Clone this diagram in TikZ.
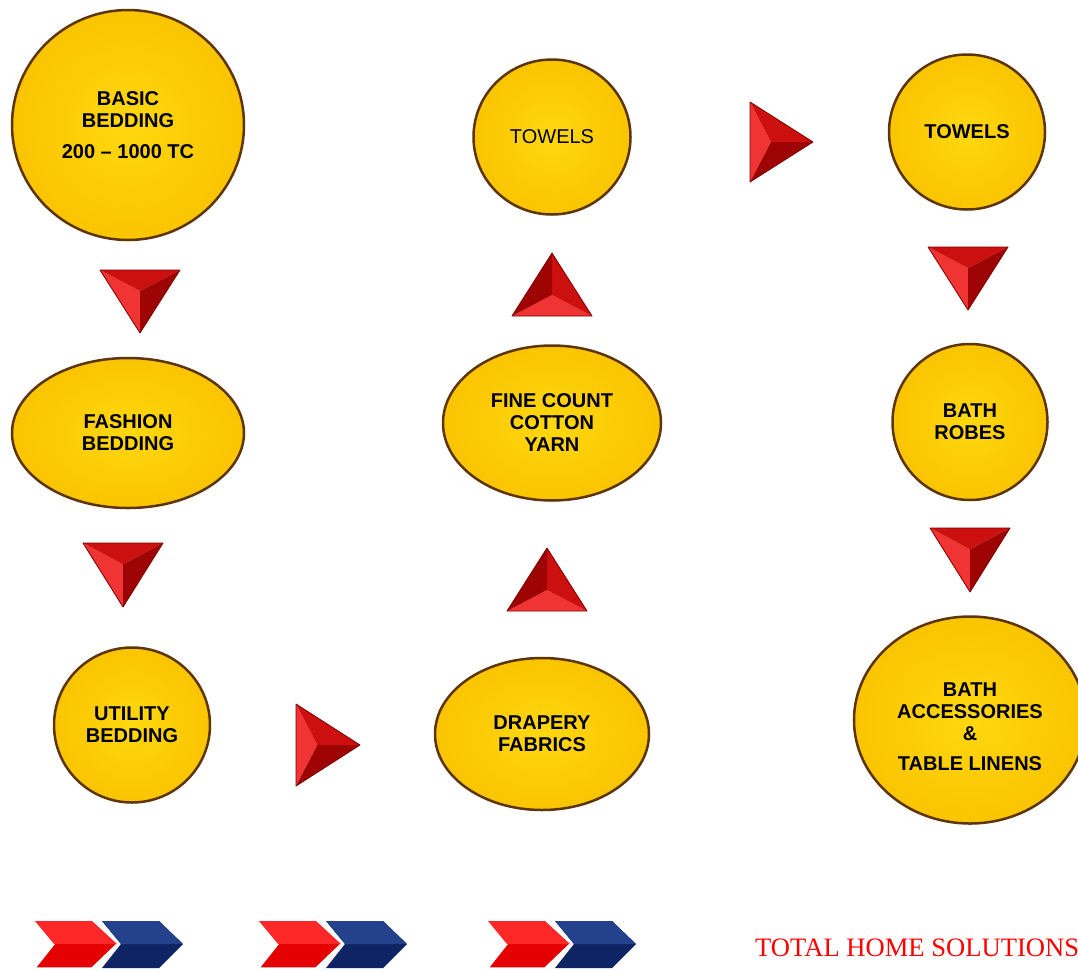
\documentclass[tikz,border=0pt]{standalone}
\usepackage{fontspec}
\setmainfont{Liberation Sans}
\newfontfamily\sloganfont{Liberation Serif}
\usepackage{tikz}
\usetikzlibrary{shapes.geometric}

\definecolor{ballhi}{RGB}{255,216,16}
\definecolor{ballrim}{RGB}{250,196,0}
\definecolor{ballline}{RGB}{92,54,10}
\definecolor{pyrbright}{RGB}{240,52,52}
\definecolor{pyrmid}{RGB}{204,16,16}
\definecolor{pyrdark}{RGB}{158,4,4}
\definecolor{pyrline}{RGB}{125,0,0}
\definecolor{chevred}{RGB}{228,0,0}
\definecolor{chevredhi}{RGB}{255,40,40}
\definecolor{chevblue}{RGB}{14,36,100}
\definecolor{chevbluehi}{RGB}{36,66,140}

\tikzset{
  ball/.style={ellipse, draw=ballline, line width=2.5pt, inner color=ballhi,
    outer color=ballrim, inner sep=0pt, align=center,
    font=\fontsize{20}{22}\selectfont\bfseries},
  thinball/.style={ball, font=\fontsize{20}{22}\selectfont},
}

% three faceted red pyramid: first facet bright, second mid, third dark
\newcommand{\redpyramid}[3]{%
  \coordinate (pa) at (#1);
  \coordinate (pb) at (#2);
  \coordinate (pc) at (#3);
  \coordinate (pg) at (barycentric cs:pa=1,pb=1,pc=1);
  \fill[pyrbright] (pa) -- (pb) -- (pg) -- cycle;
  \fill[pyrmid] (pb) -- (pc) -- (pg) -- cycle;
  \fill[pyrdark] (pc) -- (pa) -- (pg) -- cycle;
  \draw[pyrline, line width=0.8pt, line join=round] (pa) -- (pb) -- (pc) -- cycle;
}

% red and blue chevrons, left edge at #1
\newcommand{\chevronpair}[1]{%
  \fill[chevblue] ({#1+67},921) -- ({#1+124},921) -- ({#1+148},944) -- ({#1+124},968) -- ({#1+67},968) -- ({#1+86},944) -- cycle;
  \fill[chevbluehi] ({#1+67},921) -- ({#1+124},921) -- ({#1+148},944) -- ({#1+86},944) -- cycle;
  \filldraw[chevred, draw=white, line width=1.5pt] (#1,921) -- ({#1+57},921) -- ({#1+82},944) -- ({#1+57},968) -- (#1,968) -- ({#1+19},944) -- cycle;
  \fill[chevredhi] (#1,921) -- ({#1+57},921) -- ({#1+82},944) -- ({#1+19},944) -- cycle;
}

\begin{document}
\begin{tikzpicture}[x=1pt, y=-1pt]
  \useasboundingbox (0,0) rectangle (1078,970);

  % first column
  \node[ball, minimum width=232pt, minimum height=230pt] (basic) at (128,125)
    {BASIC\\BEDDING\\[9pt]200 -- 1000 TC};
  \node[ball, minimum width=232pt, minimum height=150pt] (fashion) at (128,433)
    {FASHION\\BEDDING};
  \node[ball, minimum width=156pt, minimum height=155pt] (utility) at (132,725)
    {UTILITY\\BEDDING};

  % second column
  \node[ball, minimum width=214pt, minimum height=152pt] (drapery) at (542,734)
    {DRAPERY\\FABRICS};
  \node[ball, minimum width=218pt, minimum height=155pt] (yarn) at (552,423)
    {FINE COUNT\\COTTON\\YARN};
  \node[thinball, minimum width=157pt, minimum height=155pt] (towels) at (552,137)
    {TOWELS};

  % third column
  \node[ball, minimum width=156pt, minimum height=155pt] (towelsb) at (967,132)
    {TOWELS};
  \node[ball, minimum width=155pt, minimum height=156pt] (robes) at (970,422)
    {BATH\\ROBES};
  \node[ball, minimum width=232pt, minimum height=207pt] (bathacc) at (970,720)
    {\\[6pt]BATH\\ACCESSORIES\\\&\\[8pt]TABLE LINENS};

  % red pointers
  \redpyramid{140,333}{100,270}{180,270}
  \redpyramid{123,607}{83,543}{163,543}
  \redpyramid{296,786}{296,704}{360,745}
  \redpyramid{507,611}{587,611}{547,548}
  \redpyramid{512,316}{592,316}{552,253}
  \redpyramid{750,182}{750,102}{813,142}
  \redpyramid{968,310}{928,247}{1008,247}
  \redpyramid{970,592}{930,528}{1010,528}

  % footer
  \chevronpair{35}
  \chevronpair{259}
  \chevronpair{488}
  \node[text=red, font=\sloganfont\fontsize{26.6}{30}\selectfont, anchor=base west,
    inner sep=0pt] (slogan) at (755,956) {TOTAL HOME SOLUTIONS};
\end{tikzpicture}
\end{document}
